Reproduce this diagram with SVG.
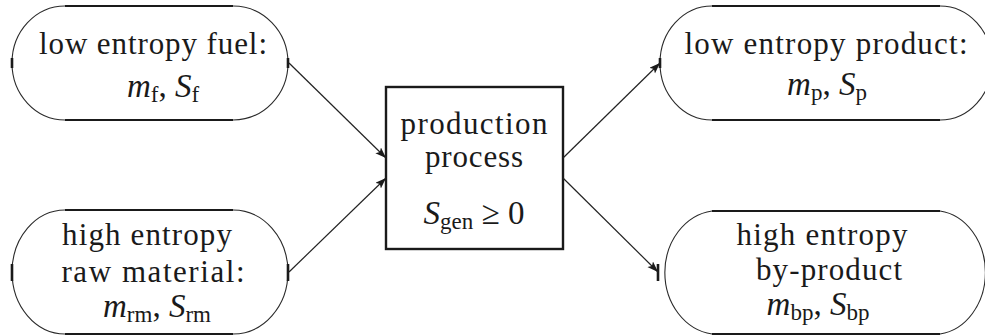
<svg xmlns="http://www.w3.org/2000/svg" width="985" height="336" viewBox="0 0 985 336">
<style>
.arc{fill:none;stroke:#2a2a2a;stroke-width:1.1}
.edge{fill:none;stroke:#1a1a1a;stroke-width:2.2}
.tick{fill:none;stroke:#1a1a1a;stroke-width:2.6}
.box{fill:#fff;stroke:#1a1a1a;stroke-width:2.4}
.conn{fill:none;stroke:#222;stroke-width:1.2}
text{font-family:'Liberation Serif','DejaVu Serif',serif;font-size:31px;fill:#1a1a1a;text-anchor:middle}
.m{font-size:33px}
.it{font-style:italic}
.sub{font-size:23px;font-style:normal}
</style>
<defs>
<marker id="ah" markerUnits="userSpaceOnUse" markerWidth="12" markerHeight="9" refX="11" refY="4" orient="auto">
<path d="M0,0 L11,4 L0,8 L2.5,4 Z" fill="#1a1a1a"/>
</marker>
</defs>
<g id="fuel" font-family="Liberation Serif, serif">
<path class="arc" d="M233,6 A55,57 0 0 1 233,120 M65,120 A53,57 0 0 1 65,6"/>
<path class="edge" d="M65,6 H233 M65,120 H233"/>
<path class="tick" d="M12,58 V68 M288,58 V68"/>
<text x="153" y="54" textLength="228">low entropy fuel:</text>
<text class="m" x="163" y="97"><tspan class="it">m</tspan><tspan class="sub" dy="5">f</tspan><tspan dy="-5">, </tspan><tspan class="it">S</tspan><tspan class="sub" dy="5">f</tspan></text>
</g>
<g id="raw" font-family="Liberation Serif, serif">
<path class="arc" d="M233,210 A55,62 0 0 1 233,334 M65,334 A53,62 0 0 1 65,210"/>
<path class="edge" d="M65,210 H233 M65,334 H233"/>
<path class="tick" d="M12,264 V281 M288,264 V281"/>
<text x="147" y="245" textLength="170">high entropy</text>
<text x="153" y="282" textLength="183">raw material:</text>
<text class="m" x="157" y="317"><tspan class="it">m</tspan><tspan class="sub" dy="5">rm</tspan><tspan dy="-5">, </tspan><tspan class="it">S</tspan><tspan class="sub" dy="5">rm</tspan></text>
</g>
<g id="process" font-family="Liberation Serif, serif">
<rect class="box" x="386" y="87" width="177" height="162"/>
<text x="474" y="134" textLength="147">production</text>
<text x="474" y="167" textLength="98">process</text>
<text class="m" x="474" y="224"><tspan class="it">S</tspan><tspan class="sub" dy="5">gen</tspan><tspan dy="-5"> ≥ 0</tspan></text>
</g>
<g id="product" font-family="Liberation Serif, serif">
<path class="arc" d="M940,6 A52,57 0 0 1 940,120 M712,120 A52,57 0 0 1 712,6"/>
<path class="edge" d="M712,6 H940 M712,120 H940"/>
<path class="tick" d="M660,58 V68"/>
<text x="826" y="54" textLength="283">low entropy product:</text>
<text class="m" x="827" y="95"><tspan class="it">m</tspan><tspan class="sub" dy="5">p</tspan><tspan dy="-5">, </tspan><tspan class="it">S</tspan><tspan class="sub" dy="5">p</tspan></text>
</g>
<g id="byproduct" font-family="Liberation Serif, serif">
<path class="arc" d="M940,211 A52,62 0 0 1 940,334 M712,334 A54,62 0 0 1 712,211"/>
<path class="edge" d="M712,211 H940 M712,334 H940"/>
<path class="tick" d="M658,264 V281"/>
<text x="822" y="245" textLength="171">high entropy</text>
<text x="829" y="280" textLength="146">by-product</text>
<text class="m" x="818" y="315"><tspan class="it">m</tspan><tspan class="sub" dy="5">bp</tspan><tspan dy="-5">, </tspan><tspan class="it">S</tspan><tspan class="sub" dy="5">bp</tspan></text>
</g>
<g id="connectors">
<line class="conn" x1="289" y1="63" x2="386" y2="158" marker-end="url(#ah)"/>
<line class="conn" x1="289" y1="272" x2="386" y2="178" marker-end="url(#ah)"/>
<line class="conn" x1="563" y1="158" x2="660" y2="63" marker-end="url(#ah)"/>
<line class="conn" x1="563" y1="178" x2="658" y2="272" marker-end="url(#ah)"/>
</g>
</svg>
